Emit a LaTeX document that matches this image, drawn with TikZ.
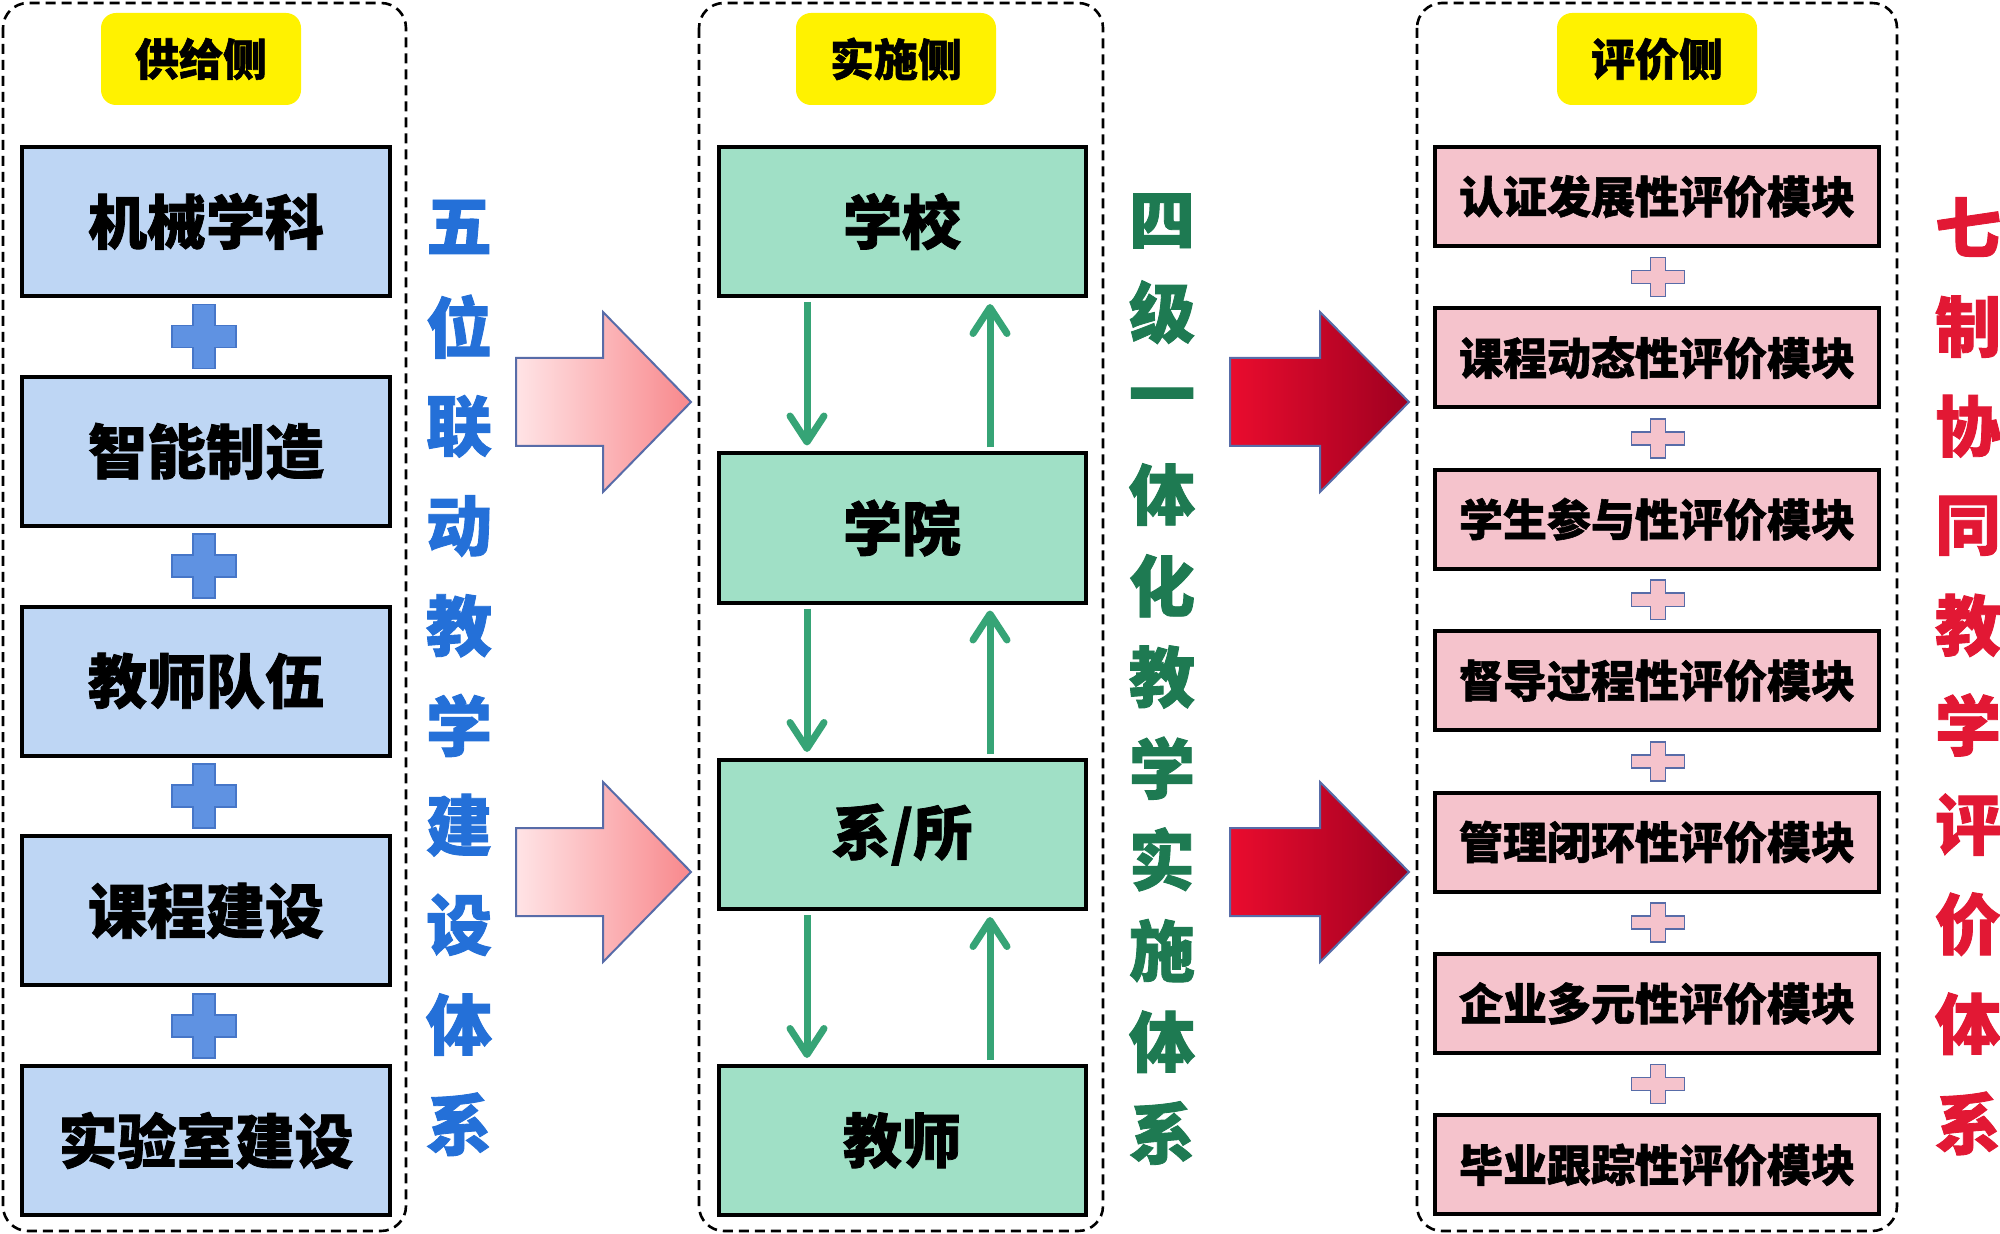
\documentclass[tikz,border=0pt]{standalone}
\usepackage{fontspec}
\setmainfont{Noto Sans CJK SC}[BoldFeatures={FakeBold=1.3}]
\usetikzlibrary{arrows.meta}
\definecolor{boxblue}{RGB}{190,214,244}
\definecolor{boxgreen}{RGB}{160,224,198}
\definecolor{boxpink}{RGB}{245,195,204}
\definecolor{plusblue}{RGB}{95,146,226}
\definecolor{plusblueline}{RGB}{70,118,200}
\definecolor{arrline}{RGB}{88,108,168}
\definecolor{txtblue}{RGB}{36,112,216}
\definecolor{txtgreen}{RGB}{30,122,82}
\definecolor{txtred}{RGB}{226,24,52}
\definecolor{arrgreen}{RGB}{54,164,118}
\definecolor{pinkL}{RGB}{255,228,230}
\definecolor{pinkR}{RGB}{248,136,140}
\definecolor{redL}{RGB}{234,12,46}
\definecolor{redR}{RGB}{158,0,32}
\begin{document}
\begin{tikzpicture}[x=0.5pt,y=-0.5pt,
  panel/.style={draw=black,line width=1.3pt,dash pattern=on 5pt off 3pt,rounded corners=12.5pt},
  header/.style={fill=yellow,rounded corners=7.5pt,minimum width=100pt,minimum height=46pt,inner sep=0pt,font=\fontsize{22pt}{24pt}\selectfont\bfseries},
  bluebox/.style={draw=black,line width=2pt,fill=boxblue,minimum width=184pt,minimum height=74.5pt,inner sep=0pt,font=\fontsize{29.5pt}{31pt}\selectfont\bfseries},
  greenbox/.style={draw=black,line width=2pt,fill=boxgreen,minimum width=183.5pt,minimum height=74.5pt,inner sep=0pt,font=\fontsize{29.5pt}{31pt}\selectfont\bfseries},
  pinkbox/.style={draw=black,line width=2pt,fill=boxpink,minimum width=222pt,minimum height=49.5pt,inner sep=0pt,font=\fontsize{22pt}{24pt}\selectfont\bfseries},
  vtext/.style={inner sep=0pt,font=\fontsize{33pt}{34pt}\selectfont\bfseries},
  garrow/.style={draw=arrgreen,line width=3.5pt,-{Straight Barb[length=13pt,width=17pt,round]},shorten >=3pt,shorten <=2pt},
  bigpink/.style={left color=pinkL,right color=pinkR,draw=arrline,line width=1pt},
  bigred/.style={left color=redL,right color=redR,draw=arrline,line width=1pt},
  bplus/.pic={\filldraw[fill=plusblue,draw=plusblueline,line width=0.8pt] (-11,-32) -- (11,-32) -- (11,-11) -- (32,-11) -- (32,11) -- (11,11) -- (11,32) -- (-11,32) -- (-11,11) -- (-32,11) -- (-32,-11) -- (-11,-11) -- cycle;},
  pplus/.pic={\filldraw[fill=boxpink,draw=arrline,line width=0.8pt] (-7.5,-19.5) -- (7.5,-19.5) -- (7.5,-6.5) -- (26.5,-6.5) -- (26.5,6.5) -- (7.5,6.5) -- (7.5,19.5) -- (-7.5,19.5) -- (-7.5,6.5) -- (-26.5,6.5) -- (-26.5,-6.5) -- (-7.5,-6.5) -- cycle;}
]
\path[use as bounding box] (0,0) rectangle (2000,1234);
\fill[white] (0,0) rectangle (2000,1234);

% panels
\draw[panel] (3,3) rectangle (406,1231);
\draw[panel] (699,3) rectangle (1103,1231);
\draw[panel] (1417,3) rectangle (1897,1231);

% headers
\node[header] (h1) at (201,59) {供给侧};
\node[header] (h2) at (896,59) {实施侧};
\node[header] (h3) at (1657,59) {评价侧};

% left column
\node[bluebox] (s1) at (206,221.5) {机械学科};
\node[bluebox] (s2) at (206,451.25) {智能制造};
\node[bluebox] (s3) at (206,681) {教师队伍};
\node[bluebox] (s4) at (206,910.75) {课程建设};
\node[bluebox] (s5) at (206,1140.5) {实验室建设};
\pic at (204,336.5) {bplus};
\pic at (204,566.25) {bplus};
\pic at (204,796) {bplus};
\pic at (204,1025.75) {bplus};

% vertical blue text
\foreach \c [count=\i from 0] in {五,位,联,动,教,学,建,设,体,系}
  \node[vtext,text=txtblue] (vb\i) at (459,{227+99.7*\i}) {\c};

% pink arrows
\path[bigpink] (516,358) -- (603,358) -- (603,312) -- (691,402) -- (603,492) -- (603,446) -- (516,446) -- cycle;
\path[bigpink] (516,828) -- (603,828) -- (603,782) -- (691,872) -- (603,962) -- (603,916) -- (516,916) -- cycle;

% middle column
\node[greenbox] (m1) at (902,221.5) {学校};
\node[greenbox] (m2) at (902,528) {学院};
\node[greenbox] (m3) at (902,834.5) {系/所};
\node[greenbox] (m4) at (902,1140.5) {教师};
\foreach \a/\b in {m1/m2,m2/m3,m3/m4}{
  \draw[garrow] ([xshift=-47.5pt]\a.south) -- ([xshift=-47.5pt]\b.north);
  \draw[garrow] ([xshift=44pt]\b.north) -- ([xshift=44pt]\a.south);
}

% vertical green text
\foreach \c [count=\i from 0] in {四,级,一,体,化,教,学,实,施,体,系}
  \node[vtext,text=txtgreen] (vg\i) at (1162,{221+91.2*\i}) {\c};

% red arrows
\path[bigred] (1230,358) -- (1320,358) -- (1320,312) -- (1409,402) -- (1320,492) -- (1320,446) -- (1230,446) -- cycle;
\path[bigred] (1230,828) -- (1320,828) -- (1320,782) -- (1409,872) -- (1320,962) -- (1320,916) -- (1230,916) -- cycle;

% right column
\foreach \t [count=\i from 0] in {认证发展性评价模块,课程动态性评价模块,学生参与性评价模块,督导过程性评价模块,管理闭环性评价模块,企业多元性评价模块,毕业跟踪性评价模块}
  \node[pinkbox] (e\i) at (1657,{196.5+161.4*\i}) {\t};
\foreach \i in {0,...,5}
  \pic at (1658,{277+161.4*\i}) {pplus};

% vertical red text
\foreach \c [count=\i from 0] in {七,制,协,同,教,学,评,价,体,系}
  \node[vtext,text=txtred] (vr\i) at (1968,{227+99.6*\i}) {\c};
\end{tikzpicture}
\end{document}
